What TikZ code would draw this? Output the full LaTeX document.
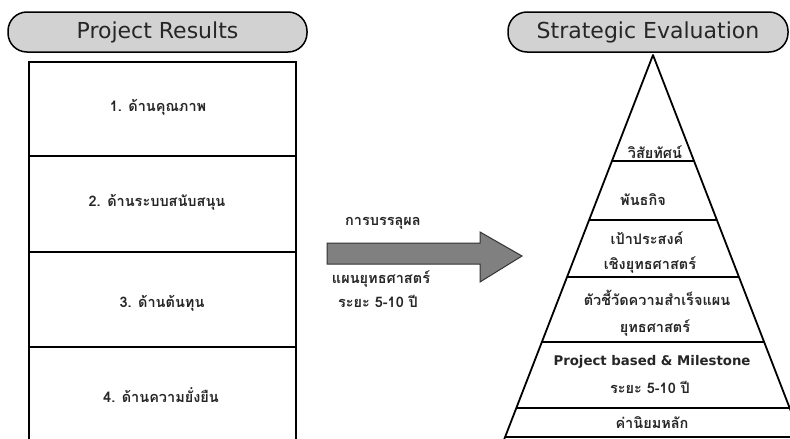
\documentclass[tikz,border=0pt]{standalone}
\usepackage{fontspec}
\setmainfont{DejaVu Sans}
\newfontfamily\thaifont[Script=Thai]{Loma}
\usetikzlibrary{calc}
\tikzset{>=stealth}
\tikzset{
  banner/.style={draw=black, line width=1.5pt, fill=gray!35, rounded corners=19pt,
    minimum height=40pt, inner sep=0pt, font=\fontsize{22}{24}\selectfont, text=black!85},
  thai/.style={font=\thaifont\bfseries\fontsize{14.5}{16}\selectfont, text=black!85, inner sep=1pt},
  latin/.style={font=\bfseries\fontsize{13.3}{15}\selectfont, text=black!85, inner sep=1pt},
}

\begin{document}
\begin{tikzpicture}[x=1pt,y=-1pt]
    \clip (0,0) rectangle (790,439);
    \fill[white] (0,0) rectangle (790,439);
    % banners
    \node[banner, minimum width=299pt] (results) at (157.5,32) {Project Results};
    \node[banner, minimum width=280pt] (evaluation) at (648,32) {Strategic Evaluation};
    % result box
    \draw[line width=1.2pt] (29,62) rectangle (296,450);
    \foreach \y in {156,252,347} \draw[line width=1.2pt] (29,\y) -- (296,\y);
    \node[thai] (quality) at (158,107) {1. ด้านคุณภาพ};
    \node[thai] (support) at (157,202) {2. ด้านระบบสนับสนุน};
    \node[thai] (cost) at (162,303) {3. ด้านต้นทุน};
    \node[thai] (sustain) at (161,395) {4. ด้านความยั่งยืน};
    % big arrow
    \filldraw[draw=black!80, line width=1pt, fill=black!50]
      (327,243) -- (480,243) -- (480,232) -- (522,256) -- (480,282) -- (480,264) -- (327,264) -- cycle;
    \node[thai] (achieve) at (383,223) {การบรรลุผล};
    \node[thai] (plan) at (381,279) {แผนยุทธศาสตร์};
    \node[thai] (period) at (378,301) {ระยะ 5-10 ปี};
    % pyramid
    \begin{scope}
      \clip (653,55) -- (502,445) -- (804,445) -- cycle;
      \foreach \y in {161,220,277,342,408,437} \draw[line width=1.1pt] (480,\y) -- (820,\y);
    \end{scope}
    \draw[line width=1.8pt, line join=round] (502,445) -- (653,55) -- (804,445);
    \node[thai] (vision) at (655,152) {วิสัยทัศน์};
    \node[thai] (mission) at (643,200) {พันธกิจ};
    \node[thai] (goal) at (647,238) {เป้าประสงค์};
    \node[thai] (goalb) at (650,265) {เชิงยุทธศาสตร์};
    \node[thai] (kpi) at (657,298) {ตัวชี้วัดความสำเร็จแผน};
    \node[thai] (kpib) at (655,328) {ยุทธศาสตร์};
    \node[latin] (project) at (652,362) {Project based \& Milestone};
    \node[thai] (projectb) at (650,387) {ระยะ 5-10 ปี};
    \node[thai] (values) at (652,423) {ค่านิยมหลัก};
  \end{tikzpicture}
\end{document}
